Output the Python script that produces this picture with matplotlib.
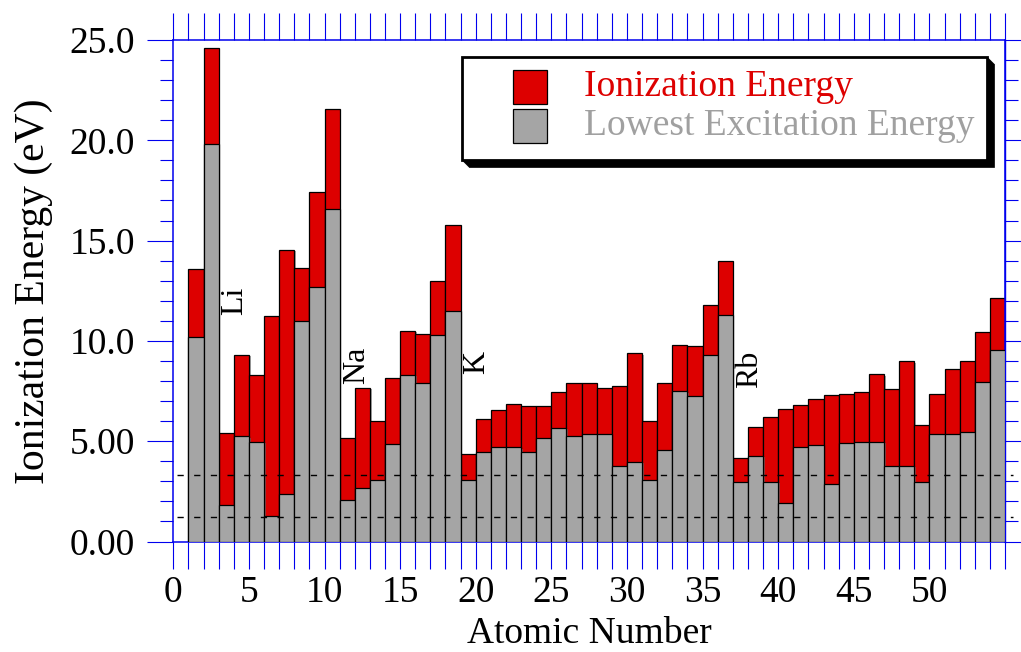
import matplotlib
matplotlib.use("Agg")
import matplotlib.pyplot as plt
import matplotlib.patheffects as pe
from matplotlib.patches import Rectangle, Polygon
from matplotlib.ticker import FixedLocator, MultipleLocator, FuncFormatter
import numpy as np

plt.rcParams['font.family'] = ['Liberation Serif', 'DejaVu Serif']

# ---------------- data ----------------
atomic_number = list(range(1, 55))
ionization_energy = [13.6, 24.6, 5.39, 9.32, 8.30, 11.26, 14.53, 13.62, 17.42, 21.56,
                     5.14, 7.65, 5.99, 8.15, 10.49, 10.36, 12.97, 15.76, 4.34, 6.11,
                     6.56, 6.83, 6.75, 6.77, 7.43, 7.90, 7.88, 7.64, 7.73, 9.39,
                     6.00, 7.90, 9.79, 9.75, 11.81, 14.00, 4.18, 5.69, 6.22, 6.63,
                     6.80, 7.09, 7.28, 7.36, 7.46, 8.34, 7.58, 8.99, 5.79, 7.34,
                     8.61, 9.01, 10.45, 12.13]
excitation_energy = [10.2, 19.8, 1.80, 5.25, 4.98, 1.25, 2.38, 10.98, 12.68, 16.6,
                     2.08, 2.68, 3.05, 4.88, 8.30, 7.88, 10.28, 11.48, 3.05, 4.45,
                     4.70, 4.70, 4.45, 5.15, 5.68, 5.27, 5.37, 5.37, 3.77, 3.98,
                     3.07, 4.57, 7.48, 7.26, 9.29, 11.27, 2.98, 4.28, 2.98, 1.94,
                     4.70, 4.80, 2.87, 4.90, 4.97, 4.97, 3.77, 3.77, 2.98, 5.38,
                     5.38, 5.48, 7.97, 9.57]
element_labels = ["Li", "Na", "K", "Rb"]
label_x = [4.05, 12.1, 20.05, 38.1]
label_y = [12.0, 8.8, 8.95, 8.6]
reference_levels = [3.3, 1.2]
x_tick_labels = ["0", "5", "10", "15", "20", "25", "30", "35", "40", "45", "50"]
y_tick_values = [0, 5, 10, 15, 20, 25]
y_tick_labels = ["0.00", "5.00", "10.0", "15.0", "20.0", "25.0"]
legend_labels = ["Ionization Energy", "Lowest Excitation Energy"]

RED = "#dd0000"
GRAY = "#a5a5a5"
BLUE = "#0000ee"

W, H = 1021, 652
fig = plt.figure(figsize=(W / 100, H / 100), dpi=100)
ax = fig.add_axes([173.3 / W, 1 - 541.5 / H, (1005 - 173.3) / W, (541.5 - 40) / H])

shadow = [pe.SimplePatchShadow(offset=(1.2, -1.0), shadow_rgbFace="#707070", alpha=0.6), pe.Normal()]
ax.bar(atomic_number, ionization_energy, width=1, align="edge", color=RED,
       edgecolor="black", linewidth=0.9, zorder=2, path_effects=shadow)
ax.bar(atomic_number, excitation_energy, width=1, align="edge", color=GRAY,
       edgecolor="black", linewidth=0.9, zorder=3, path_effects=shadow)

for lv in reference_levels:
    ax.plot([0.25, 55.5], [lv, lv], color="black", lw=1.0, dashes=(4.5, 7.5),
            zorder=4, clip_on=False)

for t, x, y in zip(element_labels, label_x, label_y):
    ax.text(x, y, t, rotation=90, ha="center", va="center", fontsize=23, zorder=5)

ax.set_xlim(0, 55)
ax.set_ylim(0, 25)

# x ticks: every unit, top & bottom, outward
ax.xaxis.set_major_locator(MultipleLocator(1))
ax.xaxis.set_major_formatter(FuncFormatter(
    lambda v, p: x_tick_labels[int(round(v)) // 5] if (int(round(v)) % 5 == 0 and v < 52) else ""))
ax.tick_params(axis="x", which="major", direction="out", length=19.4, width=0.8,
               color=BLUE, top=True, bottom=True, labelsize=27, pad=5)

# y ticks left
ax.yaxis.set_major_locator(FixedLocator(y_tick_values))
ax.set_yticklabels(y_tick_labels)
ax.yaxis.set_minor_locator(MultipleLocator(1))
ax.tick_params(axis="y", which="major", direction="out", length=18.7, width=0.8,
               color=BLUE, labelsize=27, pad=9, right=False)
ax.tick_params(axis="y", which="minor", direction="out", length=9.4, width=0.8,
               color=BLUE, right=False)

# right ticks via secondary axis
sec = ax.secondary_yaxis("right")
sec.yaxis.set_major_locator(FixedLocator(y_tick_values))
sec.yaxis.set_minor_locator(MultipleLocator(1))
sec.tick_params(axis="y", which="major", direction="out", length=11.5, width=0.8,
                color=BLUE, labelright=False)
sec.tick_params(axis="y", which="minor", direction="out", length=9.4, width=0.8,
                color=BLUE)
sec.spines["right"].set_color(BLUE)
sec.spines["right"].set_linewidth(1.0)

for s in ax.spines.values():
    s.set_color(BLUE)
    s.set_linewidth(1.1)

ax.set_xlabel("Atomic Number", fontsize=27, labelpad=5)
ax.set_ylabel("Ionization Energy (eV)", fontsize=30, labelpad=12)

# ---------------- legend (drawn in pixel coords) ----------------
def fx(x):
    return x / W

def fy(y):
    return 1 - y / H

x0, y0, x1, y1, d = 462, 57, 987, 160, 7.5
shadow_poly = [(x1, y0), (x1 + d, y0 + d), (x1 + d, y1 + d), (x0 + d, y1 + d), (x0, y1), (x1, y1)]
fig.add_artist(Polygon([(fx(a), fy(b)) for a, b in shadow_poly], closed=True,
                       facecolor="black", edgecolor="black", lw=0.5,
                       transform=fig.transFigure, zorder=10))
fig.add_artist(Rectangle((fx(x0), fy(y1)), fx(x1) - fx(x0), fy(y0) - fy(y1),
                         facecolor="white", edgecolor="black", lw=2.0,
                         transform=fig.transFigure, zorder=11))
patch_specs = [(70, 103.5, RED), (109, 143, GRAY)]
text_colors = [RED, "#a0a0a0"]
for (pt, pb, c), lab, tc in zip(patch_specs, legend_labels, text_colors):
    fig.add_artist(Rectangle((fx(513), fy(pb)), fx(547) - fx(513), fy(pt) - fy(pb),
                             facecolor=c, edgecolor="black", lw=0.9,
                             transform=fig.transFigure, zorder=12))
    fig.text(fx(584), fy((pt + pb) / 2), lab, color=tc, fontsize=27,
             ha="left", va="center", zorder=12)

fig.savefig("out.png", dpi=100)
